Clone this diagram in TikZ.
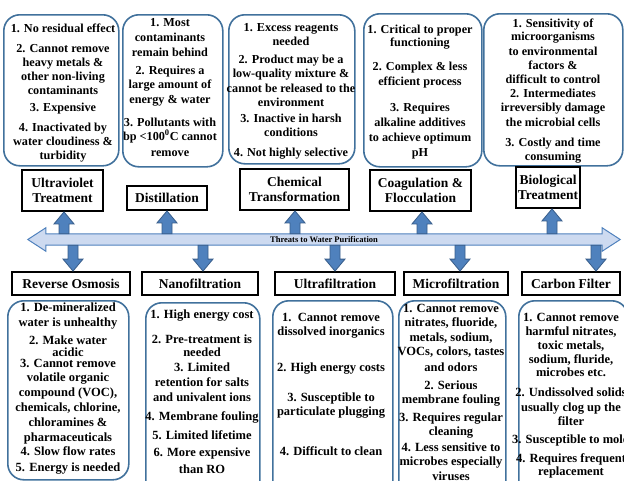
\documentclass[tikz,border=0pt]{standalone}
\usepackage{fontspec}
\setmainfont{Liberation Serif}
\usetikzlibrary{calc,backgrounds}
\definecolor{boxblue}{RGB}{65,113,156}
\definecolor{arrfill}{RGB}{79,129,189}
\definecolor{arrline}{RGB}{56,93,138}
\definecolor{barfill}{RGB}{205,218,240}
\tikzset{
  issue/.style={draw=boxblue, line width=1.6pt, rounded corners=16pt, inner sep=0pt},
  itxt/.style={inner sep=0pt, font=\bfseries\fontsize{12.2}{14}\selectfont, text height=8pt, text depth=2pt},
  btxt/.style={inner sep=0pt, font=\bfseries\fontsize{12.5}{14}\selectfont, text height=8pt, text depth=2pt},
  lab/.style={draw=black, line width=1.8pt, fill=white, inner sep=0pt, align=center, font=\bfseries\fontsize{13.5}{15}\selectfont},
  blk/.style={fill=arrfill, draw=arrline, line width=0.8pt, line join=miter},
  barst/.style={fill=barfill, draw=arrfill, line width=1pt, line join=miter},
}
\newcommand\toplines[3]{\foreach \lny/\lnt [count=\lni] in {#3} {\node[itxt] (#1\lni) at (#2,\lny) {\lnt};}}
\newcommand\botlines[3]{\foreach \lny/\lnt [count=\lni] in {#3} {\node[btxt] (#1\lni) at (#2,\lny) {\lnt};}}
\newcommand\myuparr[2]{%
  \draw[blk] let \p1=(bar.north), \p2=(#1.south) in
  (\x2+#2pt-5pt,\y1) -- (\x2+#2pt-5pt,\y2-12pt) -- (\x2+#2pt-10pt,\y2-12pt) -- (\x2+#2pt,\y2)
  -- (\x2+#2pt+10pt,\y2-12pt) -- (\x2+#2pt+5pt,\y2-12pt) -- (\x2+#2pt+5pt,\y1) -- cycle;}
\newcommand\mydownarr[2]{%
  \draw[blk] let \p1=(bar.south), \p2=(#1.north) in
  (\x2+#2pt-5pt,\y1) -- (\x2+#2pt-5pt,\y2+12pt) -- (\x2+#2pt-10pt,\y2+12pt) -- (\x2+#2pt,\y2)
  -- (\x2+#2pt+10pt,\y2+12pt) -- (\x2+#2pt+5pt,\y2+12pt) -- (\x2+#2pt+5pt,\y1) -- cycle;}
\begin{document}
\begin{tikzpicture}[x=1pt,y=-1pt]
\useasboundingbox (0,0) rectangle (624,480);
\clip (0,0) rectangle (624,480);
% top issue boxes
\node[issue, anchor=north west, minimum width=115pt, minimum height=151pt] (t1) at (3,14) {};
\node[issue, anchor=north west, minimum width=100pt, minimum height=152pt] (t2) at (122,14) {};
\node[issue, anchor=north west, minimum width=126pt, minimum height=149pt] (t3) at (228,14) {};
\node[issue, anchor=north west, minimum width=118pt, minimum height=153pt] (t4) at (363,13) {};
\node[issue, anchor=north west, minimum width=139pt, minimum height=152pt] (t5) at (483,13) {};
\toplines{a}{63}{29/{1. No residual effect}, 49/{2. Cannot remove}, 63/{heavy metals \&}, 77/{other non-living}, 91/{contaminants}, 108/{3. Expensive}, 128/{4. Inactivated by}, 142/{water cloudiness \&}, 156/{turbidity}}
\toplines{b}{170}{23/{1. Most}, 38/{contaminants}, 53/{remain behind}, 71/{2. Requires a}, 85/{large amount of}, 100/{energy \& water}, 123/{3. Pollutants with}, 137/{bp <100\textsuperscript{0}C cannot}, 153/{remove}}
\toplines{c}{291}{28/{1. Excess reagents}, 42/{needed}, 60/{2. Product may be a}, 74/{low-quality mixture \&}, 89/{cannot be released to the}, 103/{environment}, 119/{3. Inactive in harsh}, 133/{conditions}, 153/{4. Not highly selective}}
\toplines{d}{420}{30/{1. Critical to proper}, 43/{functioning}, 67/{2. Complex \& less}, 82/{efficient process}, 108/{3. Requires}, 123/{alkaline additives}, 138/{to achieve optimum}, 153/{pH}}
\toplines{e}{553}{24/{1. Sensitivity of}, 37/{microorganisms}, 52/{to environmental}, 66/{factors \&}, 80/{difficult to control}, 94/{2. Intermediates}, 108/{irreversibly damage}, 123/{the microbial cells}, 143/{3. Costly and time}, 157/{consuming}}
% top labels
\node[lab, minimum width=81pt, minimum height=41pt] (uv) at (62.5,190.5) {Ultraviolet\\Treatment};
\node[lab, minimum width=80pt, minimum height=24pt] (dist) at (167,198) {Distillation};
\node[lab, minimum width=109pt, minimum height=41pt] (chem) at (294.5,189.5) {Chemical\\Transformation};
\node[lab, minimum width=101pt, minimum height=41pt] (coag) at (420.5,190.5) {Coagulation \&\\Flocculation};
\node[lab, minimum width=64pt, minimum height=41pt] (bio) at (548,187.5) {Biological\\Treatment};
% bottom labels
\node[lab, minimum width=118pt, minimum height=23pt] (ro) at (71,283.5) {Reverse Osmosis};
\node[lab, minimum width=116pt, minimum height=23pt] (nano) at (200,283.5) {Nanofiltration};
\node[lab, minimum width=120pt, minimum height=23pt] (ultra) at (335,283.5) {Ultrafiltration};
\node[lab, minimum width=104pt, minimum height=23pt] (micro) at (456,283.5) {Microfiltration};
\node[lab, minimum width=98pt, minimum height=23pt] (carbon) at (571,283.5) {Carbon Filter};
% central bar
\node[inner sep=0pt, minimum width=556pt, minimum height=11pt, font=\bfseries\fontsize{8.5}{9}\selectfont] (bar) at (324,239.5) {Threats to Water Purification};
\begin{scope}[on background layer]
\draw[barst] (bar.north west) -- (bar.north east) -- ([yshift=6pt]bar.north east) -- ([xshift=18pt]bar.east)
  -- ([yshift=-6pt]bar.south east) -- (bar.south east) -- (bar.south west) -- ([yshift=-6pt]bar.south west)
  -- ([xshift=-18pt]bar.west) -- ([yshift=6pt]bar.north west) -- cycle;
\end{scope}
\myuparr{uv}{1.5}
\myuparr{dist}{0}
\myuparr{chem}{0.5}
\myuparr{coag}{1.5}
\myuparr{bio}{4}
\mydownarr{ro}{2}
\mydownarr{nano}{3}
\mydownarr{ultra}{0}
\mydownarr{micro}{4}
\mydownarr{carbon}{25}
% bottom issue boxes
\node[issue, anchor=north west, minimum width=121pt, minimum height=179pt] (u1) at (7,300) {};
\node[issue, anchor=north west, minimum width=114pt, minimum height=200pt] (u2) at (145,302) {};
\node[issue, anchor=north west, minimum width=120pt, minimum height=200pt] (u3) at (272,300) {};
\node[issue, anchor=north west, minimum width=107pt, minimum height=200pt] (u4) at (398,300) {};
\node[issue, anchor=north west, minimum width=109pt, minimum height=200pt] (u5) at (518,300) {};
\botlines{p}{68}{308/{1. De-mineralized}, 323/{water is unhealthy}, 341/{2. Make water}, 353/{acidic}, 364/{3. Cannot remove}, 378/{volatile organic}, 393/{compound (VOC),}, 408/{chemicals, chlorine,}, 423/{chloramines \&}, 438/{pharmaceuticals}, 452/{4. Slow flow rates}, 468/{5. Energy is needed}}
\botlines{q}{202}{315/{1. High energy cost}, 340/{2. Pre-treatment is}, 353/{needed}, 368/{3. Limited}, 383/{retention for salts}, 398/{and univalent ions}, 417/{4. Membrane fouling}, 436/{5. Limited lifetime}, 453/{6. More expensive}, 470/{than RO}}
\botlines{r}{331}{318/{1.\ \ Cannot remove}, 332/{dissolved inorganics}, 368/{2. High energy costs}, 398/{3. Susceptible to}, 412/{particulate plugging}, 452/{4. Difficult to clean}}
\botlines{s}{451}{309/{1. Cannot remove}, 323/{nitrates, fluoride,}, 338/{metals, sodium,}, 352/{VOCs, colors, tastes}, 368/{and odors}, 386/{2. Serious}, 400/{membrane fouling}, 418/{3. Requires regular}, 432/{cleaning}, 448/{4. Less sensitive to}, 462/{microbes especially}, 477/{viruses}}
\botlines{w}{571}{318/{1. Cannot remove}, 332/{harmful nitrates,}, 346/{toxic metals,}, 360/{sodium, fluride,}, 373/{microbes etc.}, 393/{2. Undissolved solids}, 408/{usually clog up the}, 422/{filter}, 440/{3. Susceptible to mold}, 459/{4. Requires frequent}, 472/{replacement}}
\end{tikzpicture}
\end{document}
